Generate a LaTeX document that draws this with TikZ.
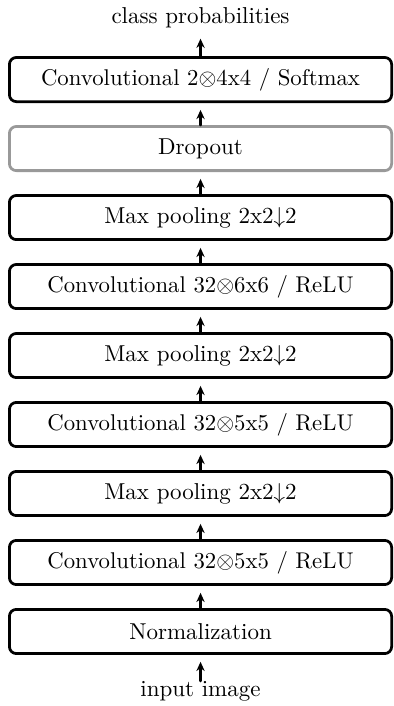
\documentclass[tikz,border=0pt]{standalone}
\usetikzlibrary{positioning,arrows.meta}
\begin{document}
\begin{tikzpicture}[line join = round, line cap = round, node distance=9.6pt,
  layer/.style={draw, very thick, rounded corners=3pt, minimum width=166.2pt, minimum height=19.2pt, inner sep=0pt},
  conv/.style={layer, font=\fontsize{9.9}{11}\selectfont},
  io/.style={inner sep=0pt, anchor=base},
  flow/.style={-{Stealth[length=4pt,width=3.6pt]}, very thick, shorten >=3pt}]
\useasboundingbox (-87.2pt,-32.4pt) rectangle (84.1pt,274.6pt);
\node[layer] (norm) at (0,0) {Normalization};
\node[conv, above=of norm] (conv1) {Convolutional 32$\otimes$5x5 / ReLU};
\node[layer, above=of conv1] (pool1) {Max pooling 2x2$\downarrow$2};
\node[conv, above=of pool1] (conv2) {Convolutional 32$\otimes$5x5 / ReLU};
\node[layer, above=of conv2] (pool2) {Max pooling 2x2$\downarrow$2};
\node[conv, above=of pool2] (conv3) {Convolutional 32$\otimes$6x6 / ReLU};
\node[layer, above=of conv3] (pool3) {Max pooling 2x2$\downarrow$2};
\node[layer, above=of pool3, draw=gray!80] (drop) {Dropout};
\node[conv, above=of drop] (soft) {Convolutional 2$\otimes$4x4 / Softmax};
\node[io] (input) at (0,-28.3pt) {input image};
\node[io] (output) at (0,264.4pt) {class probabilities};

\foreach \a/\b in {norm/conv1, conv1/pool1, pool1/conv2, conv2/pool2, pool2/conv3, conv3/pool3, pool3/drop, drop/soft}
    \draw[flow] (\a.north) -- (\b.south);
\draw[flow, shorten >=4.5pt] (soft.north) -- (output.south);
\draw[flow] (input.north) -- (norm.south);
\end{tikzpicture}
\end{document}
